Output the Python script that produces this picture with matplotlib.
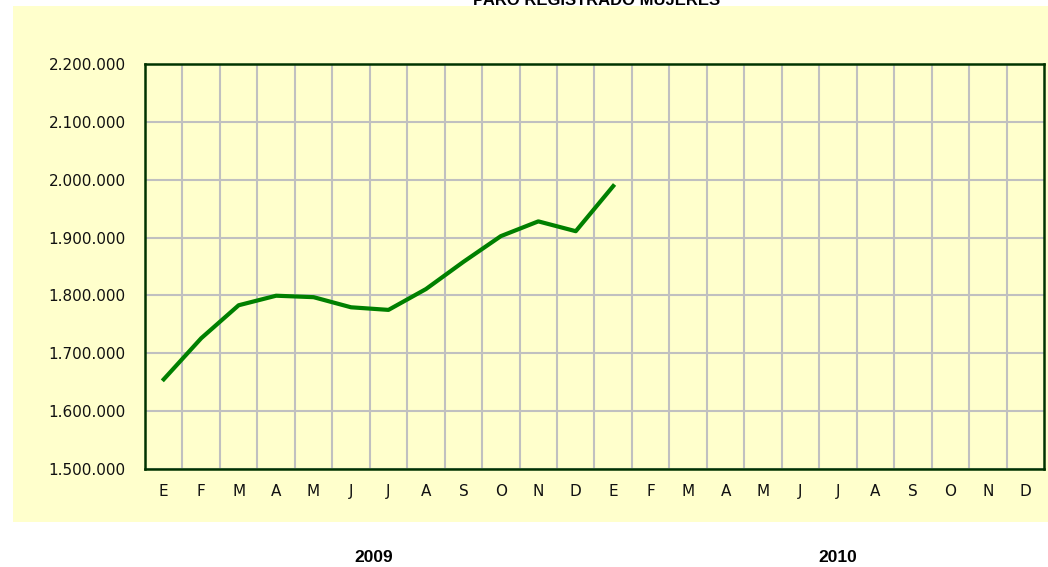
import numpy as np
import matplotlib.pyplot as plt
from matplotlib.patches import Rectangle
from matplotlib.ticker import FuncFormatter

# month labels for 2009 and 2010
months = ['E', 'F', 'M', 'A', 'M', 'J', 'J', 'A', 'S', 'O', 'N', 'D'] * 2
years = ['2009', '2010']

# registered unemployment, women (Jan 2009 - Jan 2010)
paro_mujeres = [1655000, 1726000, 1783000, 1799500, 1797000, 1779500,
                1775000, 1811000, 1858000, 1902500, 1928000, 1911000, 1989000]

yellow = '#FFFFCC'

plt.rcParams['font.family'] = ['Liberation Sans', 'DejaVu Sans']

fig = plt.figure(figsize=(10.48, 5.67), dpi=100)
fig.patch.set_facecolor('white')
fig.patches.append(Rectangle((13 / 1048, 1 - 522 / 567), 1 - 13 / 1048, 516 / 567,
                             transform=fig.transFigure, facecolor=yellow,
                             edgecolor='none', zorder=-10))

ax = fig.add_axes([145 / 1048, 1 - 469 / 567, 899 / 1048, 405 / 567])
ax.set_facecolor(yellow)

x = np.arange(len(paro_mujeres))
ax.plot(x, paro_mujeres, color='#008000', linewidth=3, solid_joinstyle='round',
        zorder=3)

ax.set_xlim(-0.5, len(months) - 0.5)
ax.set_ylim(1500000, 2200000)
ax.set_xticks(np.arange(len(months)))
ax.set_xticklabels(months)
ax.set_xticks(np.arange(0.5, len(months) - 1, 1), minor=True)
ax.set_yticks(np.arange(1500000, 2200001, 100000))
ax.yaxis.set_major_formatter(FuncFormatter(lambda v, p: f'{int(v):,}'.replace(',', '.')))

ax.grid(False)
ax.xaxis.grid(True, which='minor', color='#C0C0C0', linewidth=1.5)
ax.yaxis.grid(True, which='major', color='#C0C0C0', linewidth=1.5)
ax.set_axisbelow(True)
ax.tick_params(which='both', length=0)
ax.tick_params(axis='y', pad=14, labelsize=11, labelcolor='#111111')
ax.tick_params(axis='x', pad=11, labelsize=11, labelcolor='#111111')
for lbl in ax.get_xticklabels() + ax.get_yticklabels():
    lbl.set_family('DejaVu Sans')

for s in ax.spines.values():
    s.set_color('#003300')
    s.set_linewidth(1.8)

fig.text(597 / 1048, 1 - 5 / 567, 'PARO REGISTRADO MUJERES', ha='center',
         va='baseline', fontsize=12, fontweight='bold')
fig.text(374 / 1048, 1 - 557 / 567, years[0], ha='center', va='center',
         fontsize=12.5, fontweight='bold')
fig.text(838 / 1048, 1 - 557 / 567, years[1], ha='center', va='center',
         fontsize=12.5, fontweight='bold')

fig.savefig('out.png', dpi=100)
